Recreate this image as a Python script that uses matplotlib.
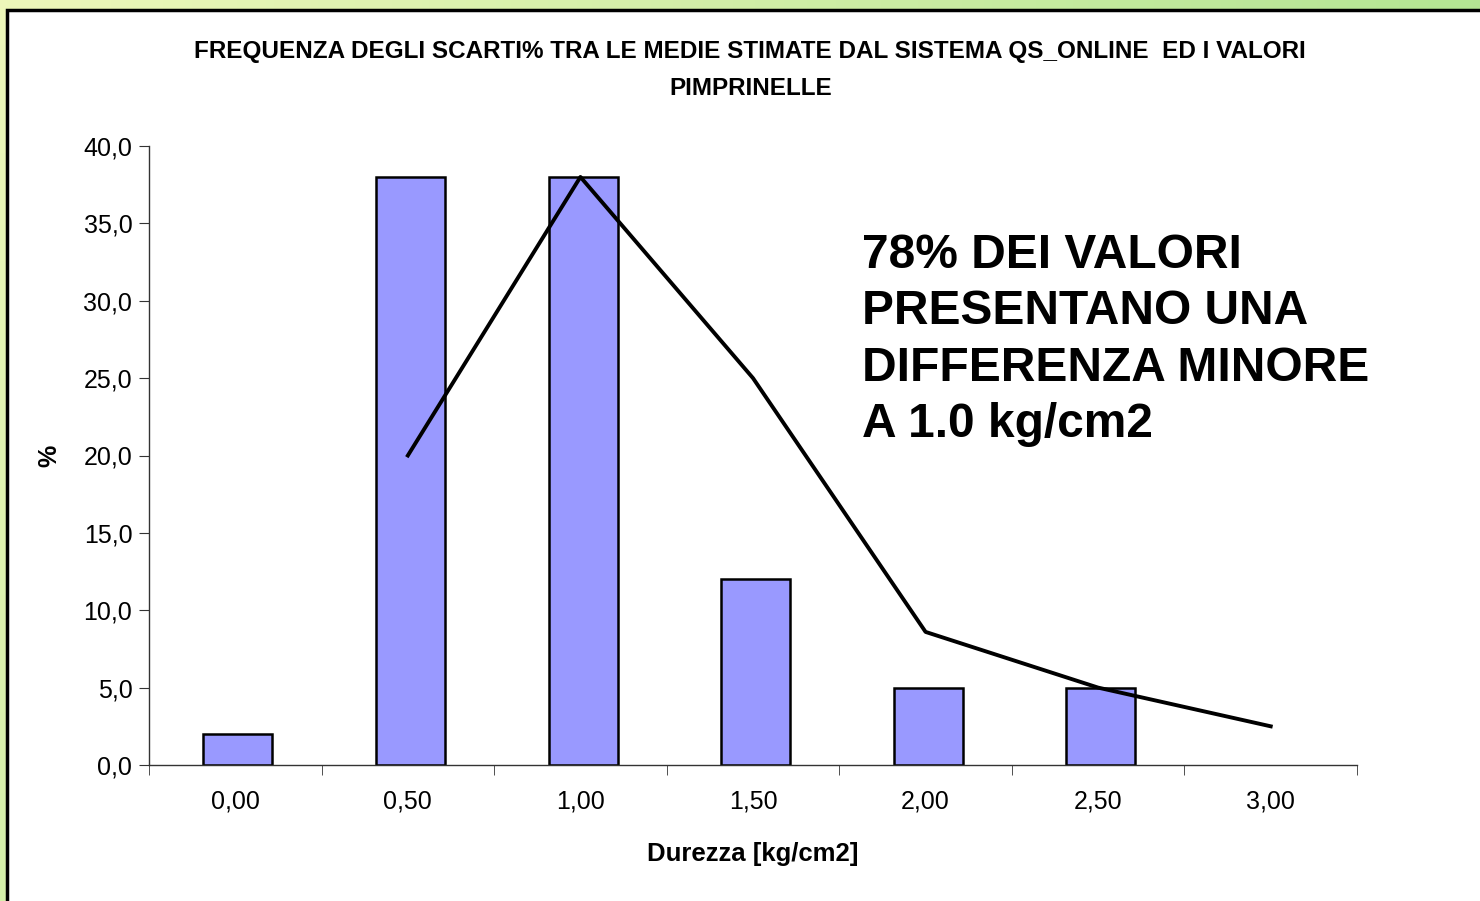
import numpy as np
import matplotlib
matplotlib.use("Agg")
import matplotlib.pyplot as plt
from matplotlib.patches import Rectangle

plt.rcParams['font.family'] = ['Liberation Sans', 'DejaVu Sans']

categorie = ["0,00", "0,50", "1,00", "1,50", "2,00", "2,50", "3,00"]
frequenza = [2.0, 38.0, 38.0, 12.0, 5.0, 5.0, 0.0]
linea_x = [1, 2, 3, 4, 5, 6]
linea_y = [20.0, 38.0, 25.0, 8.6, 5.0, 2.5]
y_ticks = [0, 5, 10, 15, 20, 25, 30, 35, 40]

fig = plt.figure(figsize=(14.8, 9.01), dpi=100)

# green gradient background
bg = fig.add_axes([0, 0, 1, 1], zorder=-10)
gx = np.linspace(0, 1, 200)
gy = np.linspace(0, 1, 100)
X, Y = np.meshgrid(gx, gy)
c0 = np.array([0.93, 0.97, 0.73])
c1 = np.array([0.65, 0.88, 0.54])
t = np.clip(0.8 * X + 0.35 * Y, 0, 1)[..., None]
img = c0 * (1 - t) + c1 * t
bg.imshow(img, extent=[0, 1, 0, 1], aspect='auto', origin='upper')
bg.set_axis_off()

# white panel with black border
fig.patches.append(Rectangle((7 / 1480, -0.05), 1.1, 1 - 9.5 / 901 + 0.05,
                             transform=fig.transFigure, facecolor='white',
                             edgecolor='black', linewidth=2.5, zorder=-5))

ax = fig.add_axes([149 / 1480, 1 - 765 / 901, (1357 - 149) / 1480, (765 - 146) / 901])
ax.set_facecolor('none')
x = np.arange(len(categorie))
valori = np.array(frequenza)
mask = valori > 0
ax.bar(x[mask] + 0.015, valori[mask], width=0.4, color='#9999ff', edgecolor='black', linewidth=1.8, zorder=2)
ax.plot(linea_x, linea_y, color='black', linewidth=2.8, zorder=3)

ax.set_xlim(-0.5, len(categorie) - 0.5)
ax.set_ylim(0, 40)
ax.set_yticks(y_ticks)
ax.set_yticklabels([f"{v:.1f}".replace('.', ',') for v in y_ticks], fontsize=18)
ax.set_xticks(x)
ax.set_xticklabels(categorie, fontsize=18)
ax.tick_params(axis='x', which='major', length=0, pad=18)
ax.set_xticks(np.arange(-0.5, len(categorie)), minor=True)
ax.tick_params(axis='x', which='minor', length=7, direction='out', color='#333333')
ax.tick_params(axis='y', length=7, direction='out', color='#333333', pad=5)
for s in ['top', 'right']:
    ax.spines[s].set_visible(False)
for s in ['left', 'bottom']:
    ax.spines[s].set_color('#333333')
    ax.spines[s].set_linewidth(1.0)

ax.set_xlabel("Durezza [kg/cm2]", fontsize=18.5, fontweight='bold', labelpad=20)
ax.set_ylabel("%", fontsize=18, fontweight='bold', labelpad=16)

fig.text(0.507, 1 - 70 / 901,
         "FREQUENZA DEGLI SCARTI% TRA LE MEDIE STIMATE DAL SISTEMA QS_ONLINE  ED I VALORI\nPIMPRINELLE",
         ha='center', va='center', fontsize=17.5, fontweight='bold', linespacing=1.75)

ax.text(3.634, 34.4, "78% DEI VALORI\nPRESENTANO UNA\nDIFFERENZA MINORE\nA 1.0 kg/cm2",
        fontsize=34.5, fontweight='bold', ha='left', va='top', linespacing=1.33)

fig.savefig("out.png", dpi=100)
